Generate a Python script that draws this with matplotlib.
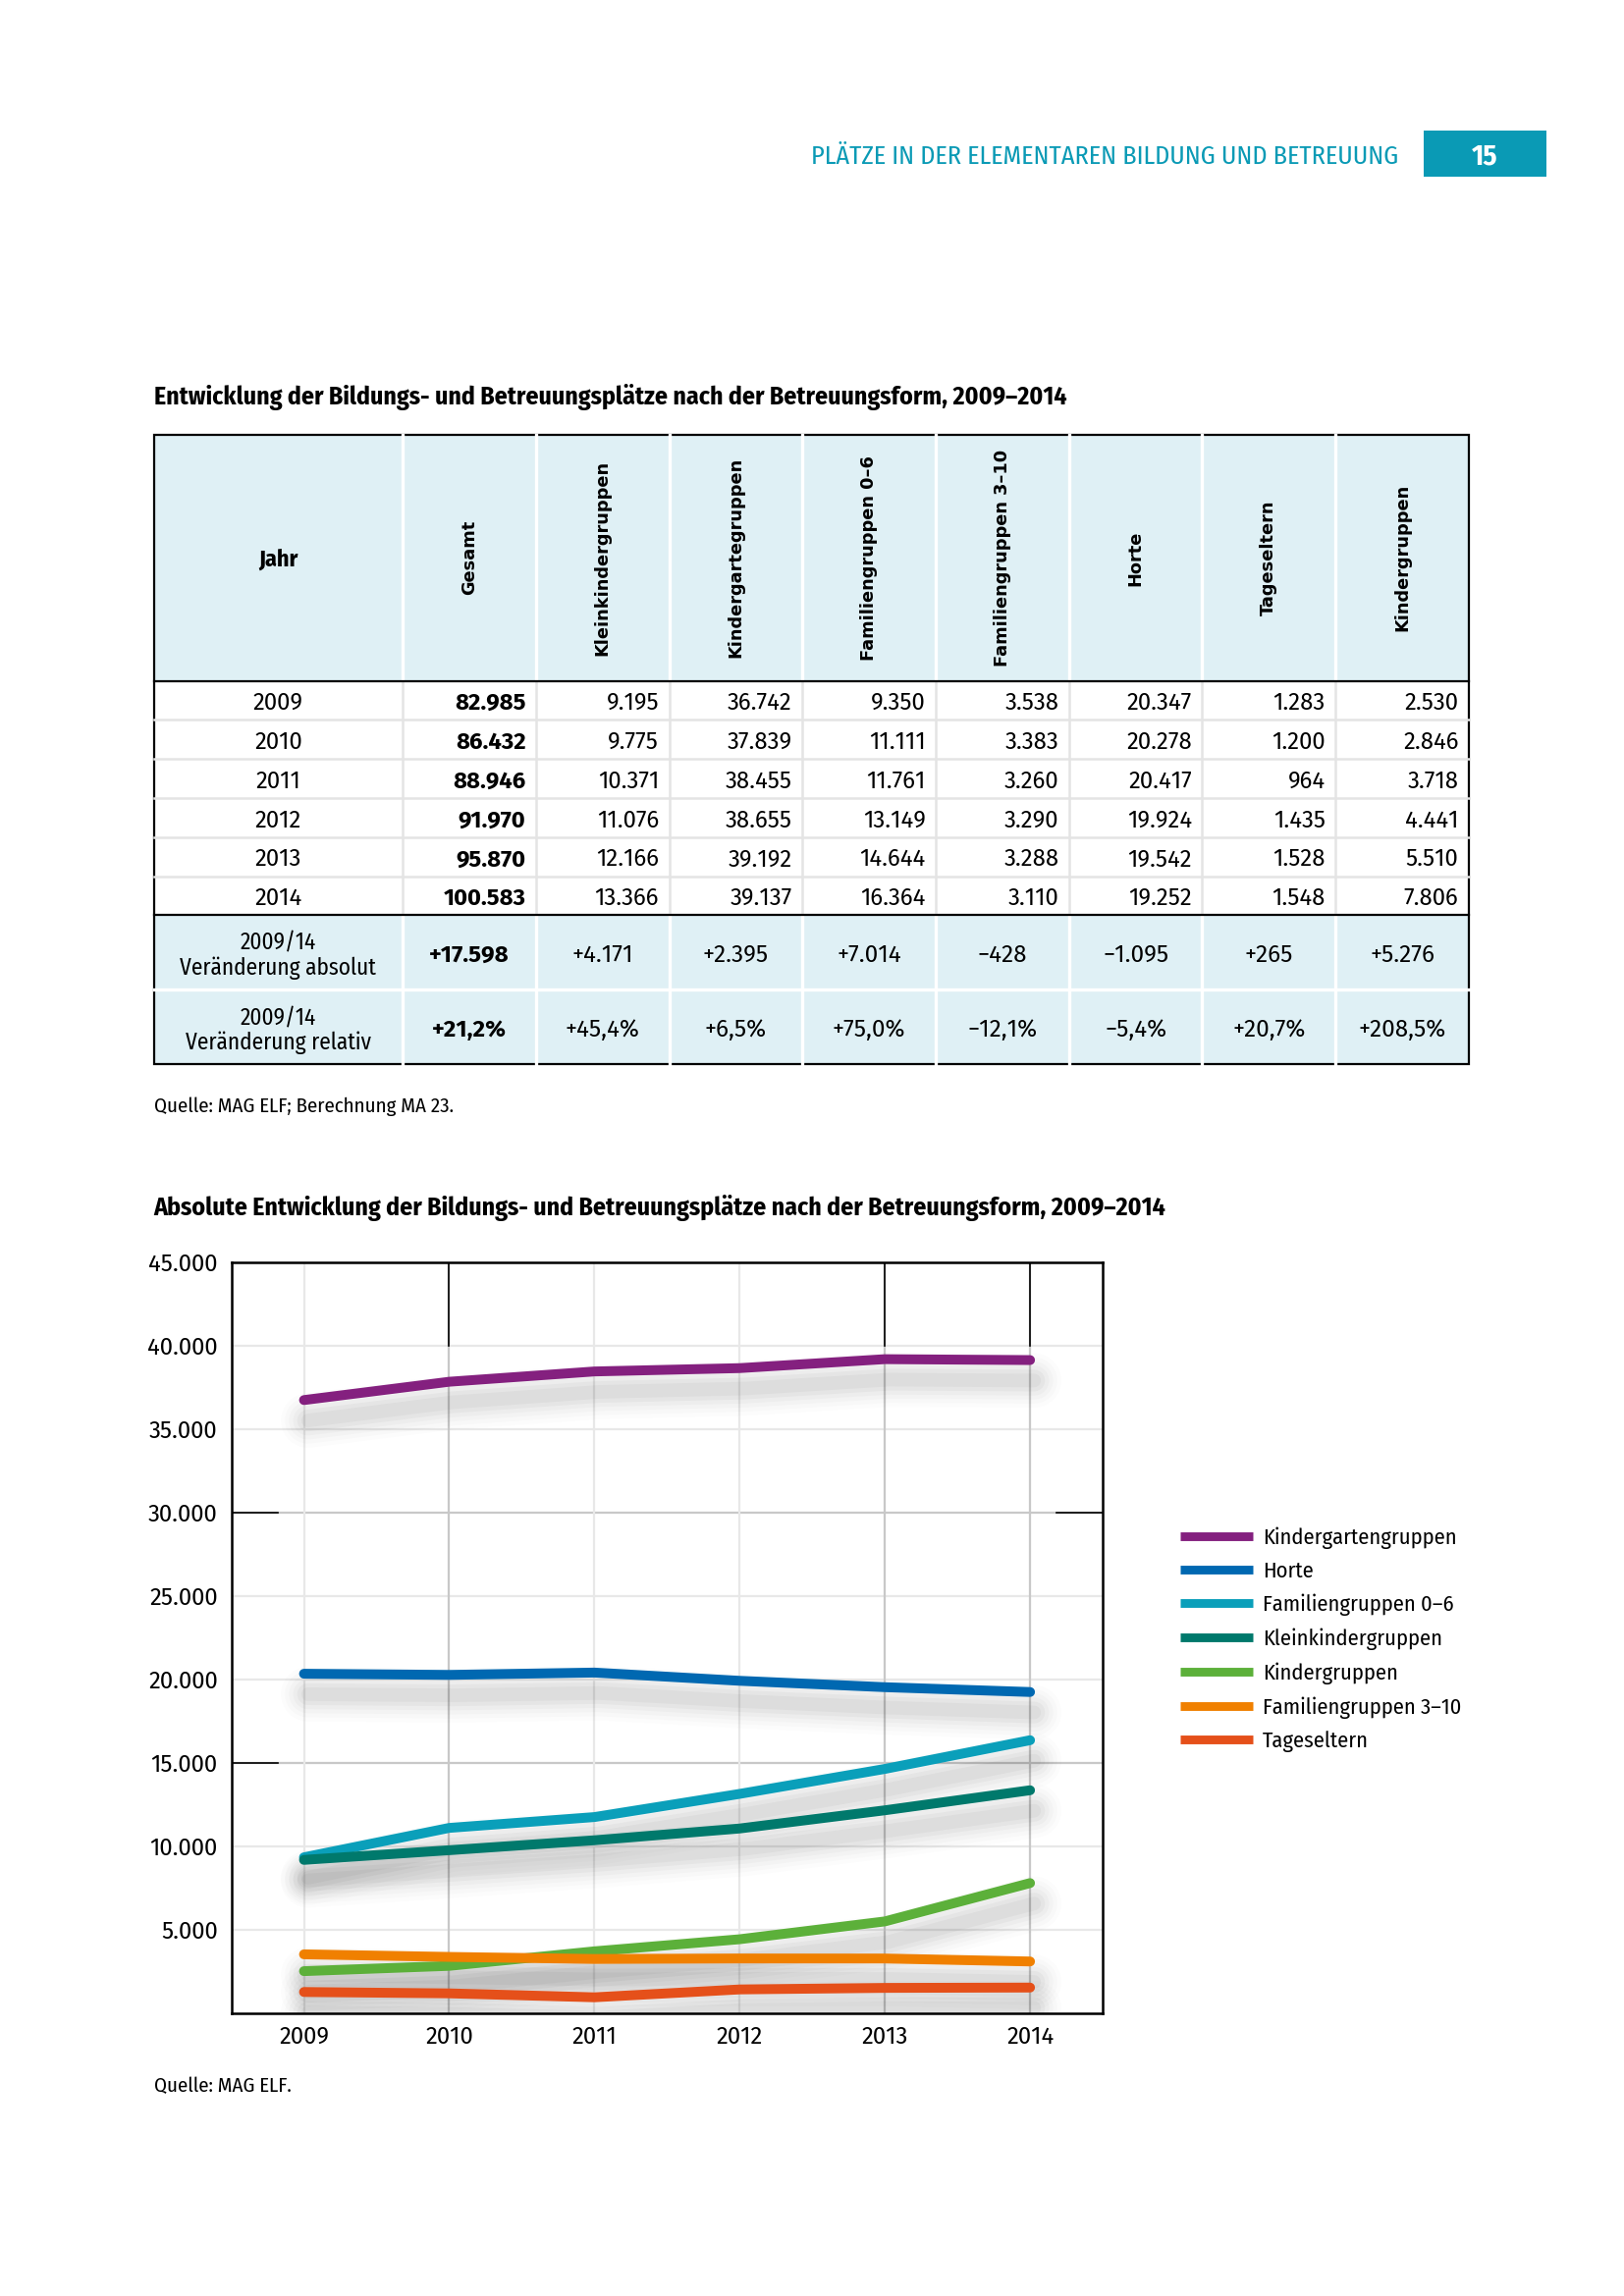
import matplotlib
matplotlib.use("Agg")
import matplotlib.pyplot as plt
import matplotlib.transforms as mtransforms
from matplotlib.patches import Rectangle
from matplotlib.lines import Line2D

# --- data ---------------------------------------------------------------
years = [2009, 2010, 2011, 2012, 2013, 2014]
gesamt = [82985, 86432, 88946, 91970, 95870, 100583]
kleinkinder = [9195, 9775, 10371, 11076, 12166, 13366]
kindergarten = [36742, 37839, 38455, 38655, 39192, 39137]
familien_06 = [9350, 11111, 11761, 13149, 14644, 16364]
familien_310 = [3538, 3383, 3260, 3290, 3288, 3110]
horte = [20347, 20278, 20417, 19924, 19542, 19252]
tageseltern = [1283, 1200, 964, 1435, 1528, 1548]
kindergruppen = [2530, 2846, 3718, 4441, 5510, 7806]

col_labels = ["Gesamt", "Kleinkindergruppen", "Kindergartegruppen", "Familiengruppen 0\u20136",
              "Familiengruppen 3\u201310", "Horte", "Tageseltern", "Kindergruppen"]
columns = [gesamt, kleinkinder, kindergarten, familien_06, familien_310, horte, tageseltern, kindergruppen]
diff_abs = ["+17.598", "+4.171", "+2.395", "+7.014", "\u2212428", "\u22121.095", "+265", "+5.276"]
diff_rel = ["+21,2%", "+45,4%", "+6,5%", "+75,0%", "\u221212,1%", "\u22125,4%", "+20,7%", "+208,5%"]

series_names = ["Kindergartengruppen", "Horte", "Familiengruppen 0\u20136", "Kleinkindergruppen",
                "Kindergruppen", "Familiengruppen 3\u201310", "Tageseltern"]
series_values = [kindergarten, horte, familien_06, kleinkinder, kindergruppen, familien_310, tageseltern]
series_colors = ["#84207f", "#0068b1", "#0a9fba", "#00796c", "#5cb03a", "#f08000", "#e5501a"]

teal = "#0a9ab5"
light_blue = "#dff0f5"
font = ["Fira Sans Condensed", "Open Sans", "DejaVu Sans"]
num_font = ["Fira Sans", "Open Sans", "DejaVu Sans"]
plt.rcParams["font.family"] = font

W, H = 1109, 1568   # page units


def fmt(v):
    return f"{v:,}".replace(",", ".")


fig = plt.figure(figsize=(8.27, 11.695), dpi=200)

page = fig.add_axes([0, 0, 1, 1])
page.set_xlim(0, W)
page.set_ylim(H, 0)
page.axis("off")

# page header
page.text(955, 107, "PLÄTZE IN DER ELEMENTAREN BILDUNG UND BETREUUNG", color=teal,
          fontsize=9.45, ha="right", va="center")
page.add_patch(Rectangle((972, 89), 84, 32, color=teal, lw=0))
page.text(1014, 107, "15", color="white", fontsize=10.5, fontweight="bold", ha="center", va="center")

# --- table --------------------------------------------------------------
page.text(105, 271, "Entwicklung der Bildungs- und Betreuungsplätze nach der Betreuungsform, 2009\u20132014",
          fontsize=9.3, fontweight="bold", ha="left", va="center")

xs = [105, 275, 366, 457, 548, 639, 730, 821, 912, 1003]
top, head_bot, data_bot, mid_sum, bottom = 297, 465, 625, 676, 727
row_h = (data_bot - head_bot) / len(years)
dy = 2  # text sits a little below the geometric row centre

page.add_patch(Rectangle((xs[0], top), xs[-1] - xs[0], head_bot - top, color=light_blue, lw=0))
page.add_patch(Rectangle((xs[0], data_bot), xs[-1] - xs[0], bottom - data_bot, color=light_blue, lw=0))

for x in xs[1:-1]:
    page.plot([x, x], [top, head_bot], color="white", lw=1.2)
    page.plot([x, x], [head_bot, data_bot], color="#e4e4e4", lw=0.9)
    page.plot([x, x], [data_bot, bottom], color="white", lw=1.2)
for i in range(1, len(years)):
    y = head_bot + i * row_h
    page.plot([xs[0], xs[-1]], [y, y], color="#e4e4e4", lw=0.9)
page.plot([xs[0], xs[-1]], [mid_sum, mid_sum], color="white", lw=1.2)
page.plot([xs[0], xs[-1]], [head_bot, head_bot], color="black", lw=0.8)
page.plot([xs[0], xs[-1]], [data_bot, data_bot], color="black", lw=0.8)
page.add_patch(Rectangle((xs[0], top), xs[-1] - xs[0], bottom - top, fill=False, ec="black", lw=0.8))

page.text((xs[0] + xs[1]) / 2, 381 + dy, "Jahr", fontsize=8.7, fontweight="bold", ha="center", va="center")
for j, lab in enumerate(col_labels):
    cx = (xs[j + 1] + xs[j + 2]) / 2
    page.text(cx, 381, lab, rotation=90, fontsize=6.4, fontweight="bold", family="DejaVu Sans",
              ha="center", va="center")

for i, yr in enumerate(years):
    cy = head_bot + (i + 0.5) * row_h + dy
    page.text((xs[0] + xs[1]) / 2, cy, str(yr), fontsize=8.6, family=num_font, ha="center", va="center")
    for j, col in enumerate(columns):
        page.text(xs[j + 2] - 7, cy, fmt(col[i]), fontsize=8.6, family=num_font, ha="right", va="center",
                  fontweight="bold" if j == 0 else "normal")

for row, lab, vals in [(0, "2009/14\nVeränderung absolut", diff_abs), (1, "2009/14\nVeränderung relativ", diff_rel)]:
    cy = data_bot + (row + 0.5) * (bottom - data_bot) / 2 + dy
    page.text((xs[0] + xs[1]) / 2, cy, lab, fontsize=8.4, ha="center", va="center", linespacing=1.15)
    for j, v in enumerate(vals):
        page.text((xs[j + 1] + xs[j + 2]) / 2, cy, v, fontsize=8.7, family=num_font, ha="center", va="center",
                  fontweight="bold" if j == 0 else "normal")

page.text(105, 756, "Quelle: MAG ELF; Berechnung MA 23.", fontsize=7.5, ha="left", va="center")

# --- chart --------------------------------------------------------------
page.text(105, 825, "Absolute Entwicklung der Bildungs- und Betreuungsplätze nach der Betreuungsform, 2009\u20132014",
          fontsize=9.3, fontweight="bold", ha="left", va="center")
page.text(105, 1425, "Quelle: MAG ELF.", fontsize=7.5, ha="left", va="center")

ax_left, ax_right, ax_top, ax_bot = 158, 753, 862, 1375
ax = fig.add_axes([ax_left / W, 1 - ax_bot / H, (ax_right - ax_left) / W, (ax_bot - ax_top) / H])
ax.set_xlim(2008.5, 2014.5)
ax.set_ylim(0, 45000)
yticks = list(range(5000, 45001, 5000))
ax.set_yticks(yticks)
ax.set_yticklabels([fmt(v) for v in yticks], family=num_font)
ax.set_xticks(years)
ax.set_xticklabels([str(y) for y in years], family=num_font)
ax.tick_params(length=0, labelsize=8.6)
ax.tick_params(axis="y", pad=5)
ax.tick_params(axis="x", pad=4.5)
for s in ax.spines.values():
    s.set_linewidth(0.9)
    s.set_color("black")

dark_h = [30000, 15000]
dark_v = [2010, 2013, 2014]
for v in yticks:
    ax.axhline(v, color="#c8c8c8" if v in dark_h else "#e8e8e8", lw=0.8, zorder=0)
for yr in years:
    ax.axvline(yr, color="#c8c8c8" if yr in dark_v else "#e8e8e8", lw=0.8, zorder=0)

# small black marks seen on the frame
for yr in dark_v:
    ax.plot([yr, yr], [40000, 45000], color="black", lw=0.6, zorder=1)
ax.plot([2008.5, 2008.82], [30000, 30000], color="black", lw=0.6, zorder=1)
ax.plot([2014.18, 2014.5], [30000, 30000], color="black", lw=0.6, zorder=1)
ax.plot([2008.5, 2008.82], [15000, 15000], color="black", lw=0.6, zorder=1)

# soft drop shadows
shadow = ax.transData + mtransforms.ScaledTranslation(1.5 / 72, -7.5 / 72, fig.dpi_scale_trans)
for vals in series_values:
    for w, a in [(20, 0.012), (17, 0.016), (14, 0.02), (11, 0.025), (8, 0.03), (5, 0.03)]:
        ax.plot(years, vals, color="black", lw=w, alpha=a, transform=shadow,
                solid_capstyle="round", solid_joinstyle="round", zorder=2)

for name, vals, c in zip(series_names, series_values, series_colors):
    ax.plot(years, vals, color=c, lw=3.6, solid_capstyle="round", solid_joinstyle="round",
            zorder=3, label=name)

handles = [Line2D([], [], color=c, lw=3.2, solid_capstyle="butt") for c in series_colors]
fig.legend(handles, series_names, loc="upper left", bbox_to_anchor=(806 / W, 1 - 1042.5 / H),
           frameon=False, fontsize=8.1, handlelength=3.3, handletextpad=0.42, labelspacing=0.55,
           borderaxespad=0, borderpad=0)

fig.savefig("out.png", dpi=200)
